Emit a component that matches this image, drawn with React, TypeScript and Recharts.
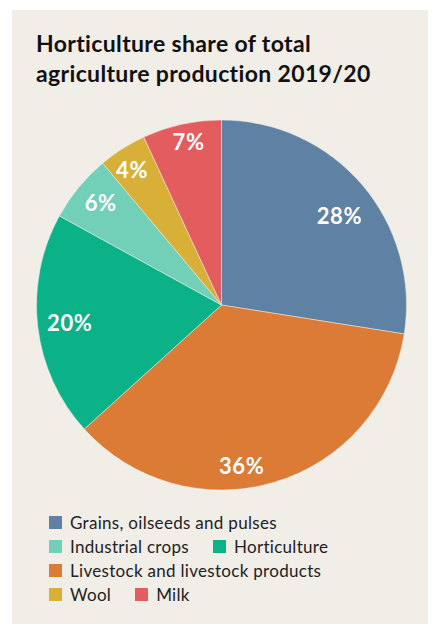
import { PieChart, Pie, Cell } from 'recharts';

const categories = [
  'Grains, oilseeds and pulses',
  'Livestock and livestock products',
  'Horticulture',
  'Industrial crops',
  'Wool',
  'Milk',
];
const shares = [27.5, 35.8, 19.7, 5.9, 4.2, 6.9];
const colors = ['#5f81a3', '#db7b35', '#0bb288', '#72d0b9', '#d8b037', '#e35d5e'];

// legend rows as they appear in the reference (indexes into categories)
const legendRows = [[0], [3, 2], [1], [4, 5]];

// where each % label sits: fraction of the radius, and degrees of shift from the mid angle
const labelRadius = [0.8, 0.875, 0.826, 0.858, 0.878, 0.9];
const labelShift = [-3.3, -9.4, 0, -1, 1, -1];

const data = categories.map((name, i) => ({ name, value: shares[i] }));

const RADIAN = Math.PI / 180;
const FONT = 'Lato, "Open Sans", sans-serif';

const renderLabel = (props: any) => {
  const { cx, cy, midAngle, outerRadius, value, index } = props;
  const r = outerRadius * labelRadius[index];
  const a = midAngle + labelShift[index];
  const x = cx + r * Math.cos(-a * RADIAN);
  const y = cy + r * Math.sin(-a * RADIAN);
  return (
    <text
      x={x}
      y={y}
      fill="#ffffff"
      textAnchor="middle"
      dominantBaseline="central"
      fontSize={22}
      fontWeight={700}
      letterSpacing={0.6}
      fontFamily={FONT}
    >
      {Math.round(value)}%
    </text>
  );
};

export default function App() {
  return (
    <div style={{ position: 'absolute', left: 0, top: 0, width: 433, height: 624, background: '#ffffff', fontFamily: FONT }}>
      <div style={{ position: 'absolute', left: 12, top: 10, width: 416, height: 614, background: '#f1eee8' }} />
      <div
        style={{
          position: 'absolute',
          left: 36,
          top: 28,
          fontSize: 23,
          fontWeight: 700,
          lineHeight: '30px',
          letterSpacing: 0.35,
          color: '#111111',
        }}
      >
        Horticulture share of total
        <br />
        agriculture production 2019/20
      </div>
      <div style={{ position: 'absolute', left: 0, top: 0 }}>
        <PieChart width={433} height={624} margin={{ top: 0, right: 0, bottom: 0, left: 0 }}>
          <Pie
            data={data}
            dataKey="value"
            nameKey="name"
            cx={221.5}
            cy={305}
            outerRadius={185}
            startAngle={90}
            endAngle={-270}
            stroke="#f1eee8"
            strokeWidth={0.5}
            label={renderLabel}
            labelLine={false}
            isAnimationActive={false}
          >
            {data.map((d, i) => (
              <Cell key={d.name} fill={colors[i]} />
            ))}
          </Pie>
        </PieChart>
      </div>
      <div style={{ position: 'absolute', left: 49, top: 510 }}>
        {legendRows.map((row, ri) => (
          <div key={ri} style={{ display: 'flex', alignItems: 'center', height: 24 }}>
            {row.map((idx) => (
              <div key={idx} style={{ display: 'flex', alignItems: 'center', marginRight: 24 }}>
                <span style={{ display: 'inline-block', width: 13, height: 13, background: colors[idx], marginRight: 8 }} />
                <span style={{ fontSize: 17, letterSpacing: 0.3, color: '#222222' }}>{categories[idx]}</span>
              </div>
            ))}
          </div>
        ))}
      </div>
    </div>
  );
}
